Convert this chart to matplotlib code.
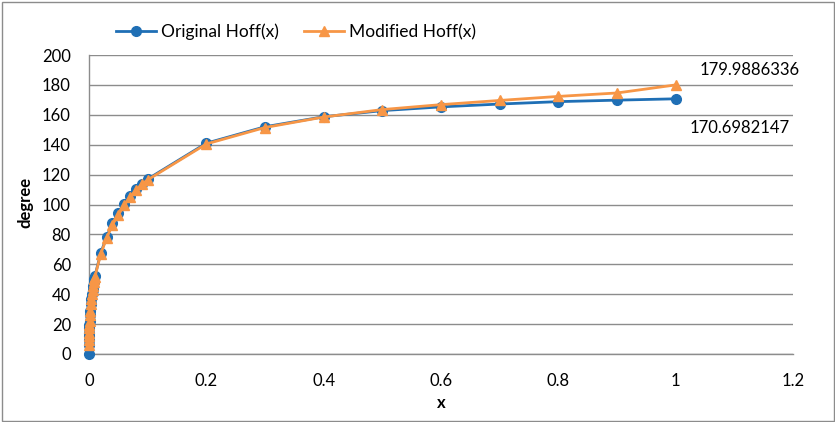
import matplotlib
matplotlib.use("Agg")
import matplotlib.pyplot as plt
from matplotlib.patches import Rectangle

plt.rcParams['font.family'] = ['Lato', 'DejaVu Sans']

# Data
x_orig = [0, 0.00003, 0.0001, 0.0002, 0.0003, 0.0005, 0.0007, 0.001, 0.0015, 0.002,
          0.003, 0.004, 0.005, 0.006, 0.007, 0.008, 0.009, 0.01,
          0.02, 0.03, 0.04, 0.05, 0.06, 0.07, 0.08, 0.09, 0.1,
          0.2, 0.3, 0.4, 0.5, 0.6, 0.7, 0.8, 0.9, 1.0]
y_orig = [0, 6.1, 9.5, 12.2, 14.2, 17.2, 19.5, 22.2, 25.8, 28.7,
          33.3, 37.0, 40.2, 43.1, 45.6, 47.9, 50.0, 52.0,
          67.5, 78.3, 87.5, 94.0, 100.5, 106.0, 110.5, 114.0, 117.0,
          141.0, 152.0, 158.7, 162.8, 165.3, 167.2, 168.8, 169.8, 170.6982147]

x_mod = [0.00003, 0.0001, 0.0002, 0.0003, 0.0005, 0.0007, 0.001, 0.0015, 0.002,
         0.003, 0.004, 0.005, 0.006, 0.007, 0.008, 0.009, 0.01,
         0.02, 0.03, 0.04, 0.05, 0.06, 0.07, 0.08, 0.09, 0.1,
         0.2, 0.3, 0.4, 0.5, 0.6, 0.7, 0.8, 0.9, 1.0]
y_mod = [6.1, 9.5, 12.2, 14.2, 17.2, 19.5, 22.2, 25.8, 28.7,
         33.3, 37.0, 40.2, 43.1, 45.6, 47.9, 50.0, 51.5,
         67.0, 77.5, 86.5, 93.0, 99.5, 105.0, 109.5, 113.5, 116.5,
         140.5, 151.5, 158.5, 163.5, 166.8, 169.6, 172.3, 174.6, 179.9886336]

series_names = ["Original Hoff(x)", "Modified Hoff(x)"]
annotations = ["179.9886336", "170.6982147"]
blue = "#1F6FB5"
orange = "#F79646"

W, H = 835, 422
fig = plt.figure(figsize=(W / 100, H / 100), dpi=100)
ax = fig.add_axes([89 / W, 1 - 354 / H, (793 - 89) / W, (354 - 55) / H])

ax.plot(x_orig, y_orig, color=blue, lw=2, marker='o', ms=7, label=series_names[0], zorder=3, clip_on=False)
ax.plot(x_mod, y_mod, color=orange, lw=2, marker='^', ms=7.5, label=series_names[1], zorder=4, clip_on=False)

ax.set_xlim(0, 1.2)
ax.set_ylim(0, 200)
ax.set_xticks([0, 0.2, 0.4, 0.6, 0.8, 1.0, 1.2])
ax.set_xticklabels(["0", "0.2", "0.4", "0.6", "0.8", "1", "1.2"])
ax.set_yticks(range(0, 201, 20))
ax.grid(axis='y', color='#8C8C8C', lw=1)
ax.set_axisbelow(True)
for s in ['top', 'right']:
    ax.spines[s].set_visible(False)
for s in ['left', 'bottom']:
    ax.spines[s].set_color('#8C8C8C')
    ax.spines[s].set_linewidth(1)
ax.tick_params(length=0, labelsize=12, colors='black')
ax.tick_params(axis='x', pad=14)
ax.tick_params(axis='y', pad=13)

ax.set_xlabel("x", fontsize=12, fontweight='bold', va='center', ha='center')
ax.xaxis.set_label_coords(0.5, (354 - 403) / 299)
ax.set_ylabel("degree", fontsize=12, fontweight='bold', va='center', ha='center')
ax.yaxis.set_label_coords((25 - 89) / 704, (354 - 202) / 299)

ax.text(1.041, 190, annotations[0], fontsize=12, ha='left', va='center')
ax.text(1.024, 151, annotations[1], fontsize=12, ha='left', va='center')

fig.legend(loc='center', bbox_to_anchor=(296 / W, 1 - 32 / H), ncol=2, frameon=False,
           fontsize=12.5, handlelength=2.3, columnspacing=1.5, handletextpad=0.25)

fig.patches.append(Rectangle((1.5 / W, 1.5 / H), 1 - 3 / W, 1 - 3 / H, transform=fig.transFigure,
                             fill=False, edgecolor='#8C8C8C', lw=1))

fig.savefig("out.png", dpi=100)
